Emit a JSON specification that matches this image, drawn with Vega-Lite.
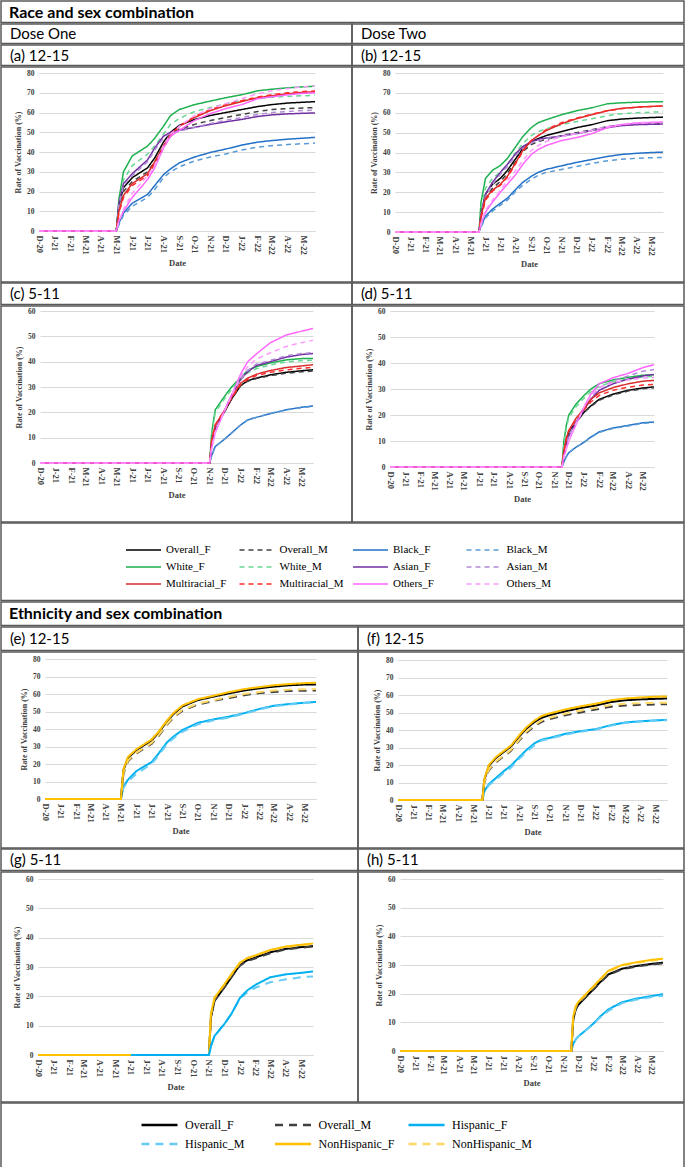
{
"$schema":"https://vega.github.io/schema/vega-lite/v6.json",
"padding":0,
"background":"white",
"spacing":-3,
"resolve":{"scale":{"color":"independent","strokeDash":"independent"}},
"config":{
 "view":{"stroke":"#595959","strokeWidth":1.5},
 "axis":{"labelFont":"Liberation Serif","labelFontWeight":"bold","labelColor":"#404040","titleFont":"Liberation Serif","titleFontWeight":"bold","titleFontSize":8,"titleColor":"#404040"},
 "axisX":{"grid":false,"ticks":false,"domainColor":"#d9d9d9","labelAngle":90,"labelFontSize":8.5,"labelPadding":4,"labelOverlap":false,"labelFlush":false,"tickCount":{"interval":"month","step":1},"labelExpr":"substring(utcFormat(datum.value, '%b'), 0, 1) + '-' + utcFormat(datum.value, '%y')","titlePadding":4,"titleFontSize":8.5},
 "axisY":{"grid":true,"gridColor":"#d9d9d9","domain":false,"ticks":false,"labelFontSize":7.5,"labelPadding":5,"titlePadding":4}
},
"datasets":{
"a":[
{"s":"Overall_F","d":"2020-12-01","v":0},{"s":"Overall_F","d":"2021-05-01","v":0},{"s":"Overall_F","d":"2021-05-06","v":13},{"s":"Overall_F","d":"2021-05-15","v":22},{"s":"Overall_F","d":"2021-06-01","v":27},{"s":"Overall_F","d":"2021-07-01","v":32},{"s":"Overall_F","d":"2021-07-15","v":37},{"s":"Overall_F","d":"2021-08-01","v":45},{"s":"Overall_F","d":"2021-08-15","v":50},{"s":"Overall_F","d":"2021-09-01","v":53.5},{"s":"Overall_F","d":"2021-10-01","v":56.5},{"s":"Overall_F","d":"2021-11-01","v":58.5},{"s":"Overall_F","d":"2021-12-01","v":60},{"s":"Overall_F","d":"2022-01-01","v":61.5},{"s":"Overall_F","d":"2022-02-01","v":63},{"s":"Overall_F","d":"2022-03-01","v":64},{"s":"Overall_F","d":"2022-04-01","v":64.8},{"s":"Overall_F","d":"2022-05-01","v":65.2},{"s":"Overall_F","d":"2022-05-24","v":65.5},
{"s":"Overall_M","d":"2020-12-01","v":0},{"s":"Overall_M","d":"2021-05-01","v":0},{"s":"Overall_M","d":"2021-05-06","v":12},{"s":"Overall_M","d":"2021-05-15","v":20},{"s":"Overall_M","d":"2021-06-01","v":25},{"s":"Overall_M","d":"2021-07-01","v":30},{"s":"Overall_M","d":"2021-07-15","v":35},{"s":"Overall_M","d":"2021-08-01","v":43},{"s":"Overall_M","d":"2021-08-15","v":48},{"s":"Overall_M","d":"2021-09-01","v":51.5},{"s":"Overall_M","d":"2021-10-01","v":54},{"s":"Overall_M","d":"2021-11-01","v":56},{"s":"Overall_M","d":"2021-12-01","v":57.5},{"s":"Overall_M","d":"2022-01-01","v":59},{"s":"Overall_M","d":"2022-02-01","v":60.5},{"s":"Overall_M","d":"2022-03-01","v":61.5},{"s":"Overall_M","d":"2022-04-01","v":62},{"s":"Overall_M","d":"2022-05-01","v":62.3},{"s":"Overall_M","d":"2022-05-24","v":62.5},
{"s":"Black_F","d":"2020-12-01","v":0},{"s":"Black_F","d":"2021-05-01","v":0},{"s":"Black_F","d":"2021-05-06","v":4},{"s":"Black_F","d":"2021-05-15","v":9},{"s":"Black_F","d":"2021-06-01","v":14},{"s":"Black_F","d":"2021-07-01","v":18.5},{"s":"Black_F","d":"2021-07-15","v":23},{"s":"Black_F","d":"2021-08-01","v":28.5},{"s":"Black_F","d":"2021-08-15","v":31.5},{"s":"Black_F","d":"2021-09-01","v":34.5},{"s":"Black_F","d":"2021-10-01","v":37.5},{"s":"Black_F","d":"2021-11-01","v":39.8},{"s":"Black_F","d":"2021-12-01","v":41.5},{"s":"Black_F","d":"2022-01-01","v":43.5},{"s":"Black_F","d":"2022-02-01","v":45},{"s":"Black_F","d":"2022-03-01","v":45.8},{"s":"Black_F","d":"2022-04-01","v":46.5},{"s":"Black_F","d":"2022-05-01","v":47},{"s":"Black_F","d":"2022-05-24","v":47.4},
{"s":"Black_M","d":"2020-12-01","v":0},{"s":"Black_M","d":"2021-05-01","v":0},{"s":"Black_M","d":"2021-05-06","v":3},{"s":"Black_M","d":"2021-05-15","v":8},{"s":"Black_M","d":"2021-06-01","v":12.5},{"s":"Black_M","d":"2021-07-01","v":17},{"s":"Black_M","d":"2021-07-15","v":21},{"s":"Black_M","d":"2021-08-01","v":27},{"s":"Black_M","d":"2021-08-15","v":30},{"s":"Black_M","d":"2021-09-01","v":32.5},{"s":"Black_M","d":"2021-10-01","v":35.5},{"s":"Black_M","d":"2021-11-01","v":37.5},{"s":"Black_M","d":"2021-12-01","v":39},{"s":"Black_M","d":"2022-01-01","v":41},{"s":"Black_M","d":"2022-02-01","v":42.5},{"s":"Black_M","d":"2022-03-01","v":43.2},{"s":"Black_M","d":"2022-04-01","v":43.8},{"s":"Black_M","d":"2022-05-01","v":44.2},{"s":"Black_M","d":"2022-05-24","v":44.5},
{"s":"White_F","d":"2020-12-01","v":0},{"s":"White_F","d":"2021-05-01","v":0},{"s":"White_F","d":"2021-05-06","v":16},{"s":"White_F","d":"2021-05-15","v":30},{"s":"White_F","d":"2021-06-01","v":38},{"s":"White_F","d":"2021-07-01","v":43},{"s":"White_F","d":"2021-07-15","v":47},{"s":"White_F","d":"2021-08-01","v":53},{"s":"White_F","d":"2021-08-15","v":58.5},{"s":"White_F","d":"2021-09-01","v":61.5},{"s":"White_F","d":"2021-10-01","v":64},{"s":"White_F","d":"2021-11-01","v":65.8},{"s":"White_F","d":"2021-12-01","v":67.5},{"s":"White_F","d":"2022-01-01","v":69},{"s":"White_F","d":"2022-02-01","v":71},{"s":"White_F","d":"2022-03-01","v":71.8},{"s":"White_F","d":"2022-04-01","v":72.5},{"s":"White_F","d":"2022-05-01","v":73},{"s":"White_F","d":"2022-05-24","v":73.3},
{"s":"White_M","d":"2020-12-01","v":0},{"s":"White_M","d":"2021-05-01","v":0},{"s":"White_M","d":"2021-05-06","v":12},{"s":"White_M","d":"2021-05-15","v":26},{"s":"White_M","d":"2021-06-01","v":33},{"s":"White_M","d":"2021-07-01","v":39},{"s":"White_M","d":"2021-07-15","v":43},{"s":"White_M","d":"2021-08-01","v":49},{"s":"White_M","d":"2021-08-15","v":54},{"s":"White_M","d":"2021-09-01","v":57},{"s":"White_M","d":"2021-10-01","v":60.5},{"s":"White_M","d":"2021-11-01","v":62.5},{"s":"White_M","d":"2021-12-01","v":64.5},{"s":"White_M","d":"2022-01-01","v":66},{"s":"White_M","d":"2022-02-01","v":67},{"s":"White_M","d":"2022-03-01","v":67.7},{"s":"White_M","d":"2022-04-01","v":68.2},{"s":"White_M","d":"2022-05-01","v":68.5},{"s":"White_M","d":"2022-05-24","v":68.7},
{"s":"Asian_F","d":"2020-12-01","v":0},{"s":"Asian_F","d":"2021-05-01","v":0},{"s":"Asian_F","d":"2021-05-06","v":14},{"s":"Asian_F","d":"2021-05-15","v":24},{"s":"Asian_F","d":"2021-06-01","v":29},{"s":"Asian_F","d":"2021-07-01","v":36},{"s":"Asian_F","d":"2021-07-15","v":42},{"s":"Asian_F","d":"2021-08-01","v":48},{"s":"Asian_F","d":"2021-08-15","v":50},{"s":"Asian_F","d":"2021-09-01","v":51},{"s":"Asian_F","d":"2021-10-01","v":52.5},{"s":"Asian_F","d":"2021-11-01","v":54},{"s":"Asian_F","d":"2021-12-01","v":55.3},{"s":"Asian_F","d":"2022-01-01","v":56.5},{"s":"Asian_F","d":"2022-02-01","v":58},{"s":"Asian_F","d":"2022-03-01","v":58.8},{"s":"Asian_F","d":"2022-04-01","v":59.3},{"s":"Asian_F","d":"2022-05-01","v":59.6},{"s":"Asian_F","d":"2022-05-24","v":59.8},
{"s":"Asian_M","d":"2020-12-01","v":0},{"s":"Asian_M","d":"2021-05-01","v":0},{"s":"Asian_M","d":"2021-05-06","v":13},{"s":"Asian_M","d":"2021-05-15","v":23},{"s":"Asian_M","d":"2021-06-01","v":28},{"s":"Asian_M","d":"2021-07-01","v":35},{"s":"Asian_M","d":"2021-07-15","v":41},{"s":"Asian_M","d":"2021-08-01","v":47},{"s":"Asian_M","d":"2021-08-15","v":49.5},{"s":"Asian_M","d":"2021-09-01","v":50.5},{"s":"Asian_M","d":"2021-10-01","v":52.5},{"s":"Asian_M","d":"2021-11-01","v":54.5},{"s":"Asian_M","d":"2021-12-01","v":56},{"s":"Asian_M","d":"2022-01-01","v":57.5},{"s":"Asian_M","d":"2022-02-01","v":59},{"s":"Asian_M","d":"2022-03-01","v":60},{"s":"Asian_M","d":"2022-04-01","v":60.5},{"s":"Asian_M","d":"2022-05-01","v":61},{"s":"Asian_M","d":"2022-05-24","v":61.2},
{"s":"Multiracial_F","d":"2020-12-01","v":0},{"s":"Multiracial_F","d":"2021-05-01","v":0},{"s":"Multiracial_F","d":"2021-05-06","v":10},{"s":"Multiracial_F","d":"2021-05-15","v":18},{"s":"Multiracial_F","d":"2021-06-01","v":24},{"s":"Multiracial_F","d":"2021-07-01","v":29},{"s":"Multiracial_F","d":"2021-07-15","v":35},{"s":"Multiracial_F","d":"2021-08-01","v":43},{"s":"Multiracial_F","d":"2021-08-15","v":49},{"s":"Multiracial_F","d":"2021-09-01","v":53},{"s":"Multiracial_F","d":"2021-10-01","v":57.5},{"s":"Multiracial_F","d":"2021-11-01","v":61},{"s":"Multiracial_F","d":"2021-12-01","v":63.5},{"s":"Multiracial_F","d":"2022-01-01","v":65.5},{"s":"Multiracial_F","d":"2022-02-01","v":67.5},{"s":"Multiracial_F","d":"2022-03-01","v":68.5},{"s":"Multiracial_F","d":"2022-04-01","v":69.5},{"s":"Multiracial_F","d":"2022-05-01","v":70.2},{"s":"Multiracial_F","d":"2022-05-24","v":70.5},
{"s":"Multiracial_M","d":"2020-12-01","v":0},{"s":"Multiracial_M","d":"2021-05-01","v":0},{"s":"Multiracial_M","d":"2021-05-06","v":9},{"s":"Multiracial_M","d":"2021-05-15","v":17},{"s":"Multiracial_M","d":"2021-06-01","v":23},{"s":"Multiracial_M","d":"2021-07-01","v":28},{"s":"Multiracial_M","d":"2021-07-15","v":34},{"s":"Multiracial_M","d":"2021-08-01","v":42},{"s":"Multiracial_M","d":"2021-08-15","v":48.5},{"s":"Multiracial_M","d":"2021-09-01","v":53},{"s":"Multiracial_M","d":"2021-10-01","v":58},{"s":"Multiracial_M","d":"2021-11-01","v":61.5},{"s":"Multiracial_M","d":"2021-12-01","v":64},{"s":"Multiracial_M","d":"2022-01-01","v":66},{"s":"Multiracial_M","d":"2022-02-01","v":67.8},{"s":"Multiracial_M","d":"2022-03-01","v":69},{"s":"Multiracial_M","d":"2022-04-01","v":70},{"s":"Multiracial_M","d":"2022-05-01","v":70.6},{"s":"Multiracial_M","d":"2022-05-24","v":70.9},
{"s":"Others_F","d":"2020-12-01","v":0},{"s":"Others_F","d":"2021-05-01","v":0},{"s":"Others_F","d":"2021-05-06","v":5},{"s":"Others_F","d":"2021-05-15","v":10},{"s":"Others_F","d":"2021-06-01","v":17},{"s":"Others_F","d":"2021-07-01","v":26},{"s":"Others_F","d":"2021-07-15","v":32},{"s":"Others_F","d":"2021-08-01","v":42},{"s":"Others_F","d":"2021-08-15","v":48},{"s":"Others_F","d":"2021-09-01","v":51},{"s":"Others_F","d":"2021-10-01","v":56},{"s":"Others_F","d":"2021-11-01","v":59.5},{"s":"Others_F","d":"2021-12-01","v":62},{"s":"Others_F","d":"2022-01-01","v":64},{"s":"Others_F","d":"2022-02-01","v":67},{"s":"Others_F","d":"2022-03-01","v":68},{"s":"Others_F","d":"2022-04-01","v":69},{"s":"Others_F","d":"2022-05-01","v":69.7},{"s":"Others_F","d":"2022-05-24","v":70},
{"s":"Others_M","d":"2020-12-01","v":0},{"s":"Others_M","d":"2021-05-01","v":0},{"s":"Others_M","d":"2021-05-06","v":5},{"s":"Others_M","d":"2021-05-15","v":11},{"s":"Others_M","d":"2021-06-01","v":19},{"s":"Others_M","d":"2021-07-01","v":28},{"s":"Others_M","d":"2021-07-15","v":33},{"s":"Others_M","d":"2021-08-01","v":43},{"s":"Others_M","d":"2021-08-15","v":49},{"s":"Others_M","d":"2021-09-01","v":53},{"s":"Others_M","d":"2021-10-01","v":58.5},{"s":"Others_M","d":"2021-11-01","v":62},{"s":"Others_M","d":"2021-12-01","v":64.5},{"s":"Others_M","d":"2022-01-01","v":67},{"s":"Others_M","d":"2022-02-01","v":69.5},{"s":"Others_M","d":"2022-03-01","v":71},{"s":"Others_M","d":"2022-04-01","v":72.2},{"s":"Others_M","d":"2022-05-01","v":73},{"s":"Others_M","d":"2022-05-24","v":73.3}
],
"b":[
{"s":"Overall_F","d":"2020-12-01","v":0},{"s":"Overall_F","d":"2021-05-19","v":0},{"s":"Overall_F","d":"2021-05-23","v":9},{"s":"Overall_F","d":"2021-06-01","v":19},{"s":"Overall_F","d":"2021-06-15","v":24},{"s":"Overall_F","d":"2021-07-01","v":27},{"s":"Overall_F","d":"2021-07-15","v":31},{"s":"Overall_F","d":"2021-08-01","v":37},{"s":"Overall_F","d":"2021-08-15","v":42},{"s":"Overall_F","d":"2021-09-01","v":45.5},{"s":"Overall_F","d":"2021-09-15","v":47},{"s":"Overall_F","d":"2021-10-01","v":48.5},{"s":"Overall_F","d":"2021-11-01","v":50.5},{"s":"Overall_F","d":"2021-12-01","v":52.5},{"s":"Overall_F","d":"2022-01-01","v":54},{"s":"Overall_F","d":"2022-02-01","v":56},{"s":"Overall_F","d":"2022-03-01","v":56.8},{"s":"Overall_F","d":"2022-04-01","v":57.3},{"s":"Overall_F","d":"2022-05-01","v":57.6},{"s":"Overall_F","d":"2022-05-24","v":57.8},
{"s":"Overall_M","d":"2020-12-01","v":0},{"s":"Overall_M","d":"2021-05-19","v":0},{"s":"Overall_M","d":"2021-05-23","v":8},{"s":"Overall_M","d":"2021-06-01","v":17},{"s":"Overall_M","d":"2021-06-15","v":22},{"s":"Overall_M","d":"2021-07-01","v":25.5},{"s":"Overall_M","d":"2021-07-15","v":29.5},{"s":"Overall_M","d":"2021-08-01","v":35.5},{"s":"Overall_M","d":"2021-08-15","v":40.5},{"s":"Overall_M","d":"2021-09-01","v":44},{"s":"Overall_M","d":"2021-09-15","v":45.5},{"s":"Overall_M","d":"2021-10-01","v":46.5},{"s":"Overall_M","d":"2021-11-01","v":48.5},{"s":"Overall_M","d":"2021-12-01","v":50},{"s":"Overall_M","d":"2022-01-01","v":51.5},{"s":"Overall_M","d":"2022-02-01","v":53},{"s":"Overall_M","d":"2022-03-01","v":53.8},{"s":"Overall_M","d":"2022-04-01","v":54.2},{"s":"Overall_M","d":"2022-05-01","v":54.4},{"s":"Overall_M","d":"2022-05-24","v":54.5},
{"s":"Black_F","d":"2020-12-01","v":0},{"s":"Black_F","d":"2021-05-19","v":0},{"s":"Black_F","d":"2021-05-23","v":3},{"s":"Black_F","d":"2021-06-01","v":8},{"s":"Black_F","d":"2021-06-15","v":11.5},{"s":"Black_F","d":"2021-07-01","v":14.5},{"s":"Black_F","d":"2021-07-15","v":17},{"s":"Black_F","d":"2021-08-01","v":21.5},{"s":"Black_F","d":"2021-08-15","v":25},{"s":"Black_F","d":"2021-09-01","v":28},{"s":"Black_F","d":"2021-09-15","v":30},{"s":"Black_F","d":"2021-10-01","v":31.5},{"s":"Black_F","d":"2021-11-01","v":33.3},{"s":"Black_F","d":"2021-12-01","v":35},{"s":"Black_F","d":"2022-01-01","v":36.5},{"s":"Black_F","d":"2022-02-01","v":38},{"s":"Black_F","d":"2022-03-01","v":39},{"s":"Black_F","d":"2022-04-01","v":39.6},{"s":"Black_F","d":"2022-05-01","v":40},{"s":"Black_F","d":"2022-05-24","v":40.2},
{"s":"Black_M","d":"2020-12-01","v":0},{"s":"Black_M","d":"2021-05-19","v":0},{"s":"Black_M","d":"2021-05-23","v":2.5},{"s":"Black_M","d":"2021-06-01","v":7},{"s":"Black_M","d":"2021-06-15","v":10.5},{"s":"Black_M","d":"2021-07-01","v":13.5},{"s":"Black_M","d":"2021-07-15","v":16},{"s":"Black_M","d":"2021-08-01","v":20.5},{"s":"Black_M","d":"2021-08-15","v":23.5},{"s":"Black_M","d":"2021-09-01","v":26.5},{"s":"Black_M","d":"2021-09-15","v":28.5},{"s":"Black_M","d":"2021-10-01","v":30},{"s":"Black_M","d":"2021-11-01","v":31.5},{"s":"Black_M","d":"2021-12-01","v":33},{"s":"Black_M","d":"2022-01-01","v":34.5},{"s":"Black_M","d":"2022-02-01","v":35.8},{"s":"Black_M","d":"2022-03-01","v":36.6},{"s":"Black_M","d":"2022-04-01","v":37.1},{"s":"Black_M","d":"2022-05-01","v":37.4},{"s":"Black_M","d":"2022-05-24","v":37.5},
{"s":"White_F","d":"2020-12-01","v":0},{"s":"White_F","d":"2021-05-19","v":0},{"s":"White_F","d":"2021-05-23","v":15},{"s":"White_F","d":"2021-06-01","v":27},{"s":"White_F","d":"2021-06-15","v":31},{"s":"White_F","d":"2021-07-01","v":33.5},{"s":"White_F","d":"2021-07-15","v":37},{"s":"White_F","d":"2021-08-01","v":43},{"s":"White_F","d":"2021-08-15","v":48},{"s":"White_F","d":"2021-09-01","v":52.5},{"s":"White_F","d":"2021-09-15","v":55},{"s":"White_F","d":"2021-10-01","v":56.5},{"s":"White_F","d":"2021-11-01","v":59},{"s":"White_F","d":"2021-12-01","v":61},{"s":"White_F","d":"2022-01-01","v":62.5},{"s":"White_F","d":"2022-02-01","v":64.5},{"s":"White_F","d":"2022-03-01","v":65},{"s":"White_F","d":"2022-04-01","v":65.3},{"s":"White_F","d":"2022-05-01","v":65.5},{"s":"White_F","d":"2022-05-24","v":65.6},
{"s":"White_M","d":"2020-12-01","v":0},{"s":"White_M","d":"2021-05-19","v":0},{"s":"White_M","d":"2021-05-23","v":12},{"s":"White_M","d":"2021-06-01","v":22},{"s":"White_M","d":"2021-06-15","v":27},{"s":"White_M","d":"2021-07-01","v":30},{"s":"White_M","d":"2021-07-15","v":34},{"s":"White_M","d":"2021-08-01","v":40},{"s":"White_M","d":"2021-08-15","v":44.5},{"s":"White_M","d":"2021-09-01","v":48.5},{"s":"White_M","d":"2021-09-15","v":50.5},{"s":"White_M","d":"2021-10-01","v":52},{"s":"White_M","d":"2021-11-01","v":54},{"s":"White_M","d":"2021-12-01","v":55.5},{"s":"White_M","d":"2022-01-01","v":57},{"s":"White_M","d":"2022-02-01","v":58.5},{"s":"White_M","d":"2022-03-01","v":59.5},{"s":"White_M","d":"2022-04-01","v":60},{"s":"White_M","d":"2022-05-01","v":60.3},{"s":"White_M","d":"2022-05-24","v":60.5},
{"s":"Asian_F","d":"2020-12-01","v":0},{"s":"Asian_F","d":"2021-05-19","v":0},{"s":"Asian_F","d":"2021-05-23","v":9},{"s":"Asian_F","d":"2021-06-01","v":19},{"s":"Asian_F","d":"2021-06-15","v":25},{"s":"Asian_F","d":"2021-07-01","v":30},{"s":"Asian_F","d":"2021-07-15","v":34},{"s":"Asian_F","d":"2021-08-01","v":39.5},{"s":"Asian_F","d":"2021-08-15","v":43},{"s":"Asian_F","d":"2021-09-01","v":45.5},{"s":"Asian_F","d":"2021-09-15","v":46.5},{"s":"Asian_F","d":"2021-10-01","v":47.3},{"s":"Asian_F","d":"2021-11-01","v":48.3},{"s":"Asian_F","d":"2021-12-01","v":49.5},{"s":"Asian_F","d":"2022-01-01","v":51},{"s":"Asian_F","d":"2022-02-01","v":52.5},{"s":"Asian_F","d":"2022-03-01","v":53.5},{"s":"Asian_F","d":"2022-04-01","v":54},{"s":"Asian_F","d":"2022-05-01","v":54.2},{"s":"Asian_F","d":"2022-05-24","v":54.3},
{"s":"Asian_M","d":"2020-12-01","v":0},{"s":"Asian_M","d":"2021-05-19","v":0},{"s":"Asian_M","d":"2021-05-23","v":8},{"s":"Asian_M","d":"2021-06-01","v":18},{"s":"Asian_M","d":"2021-06-15","v":24},{"s":"Asian_M","d":"2021-07-01","v":29},{"s":"Asian_M","d":"2021-07-15","v":33},{"s":"Asian_M","d":"2021-08-01","v":38.5},{"s":"Asian_M","d":"2021-08-15","v":42},{"s":"Asian_M","d":"2021-09-01","v":44.8},{"s":"Asian_M","d":"2021-09-15","v":46},{"s":"Asian_M","d":"2021-10-01","v":47},{"s":"Asian_M","d":"2021-11-01","v":48.2},{"s":"Asian_M","d":"2021-12-01","v":49.5},{"s":"Asian_M","d":"2022-01-01","v":51.2},{"s":"Asian_M","d":"2022-02-01","v":53},{"s":"Asian_M","d":"2022-03-01","v":54},{"s":"Asian_M","d":"2022-04-01","v":54.6},{"s":"Asian_M","d":"2022-05-01","v":54.9},{"s":"Asian_M","d":"2022-05-24","v":55},
{"s":"Multiracial_F","d":"2020-12-01","v":0},{"s":"Multiracial_F","d":"2021-05-19","v":0},{"s":"Multiracial_F","d":"2021-05-23","v":8},{"s":"Multiracial_F","d":"2021-06-01","v":17},{"s":"Multiracial_F","d":"2021-06-15","v":21},{"s":"Multiracial_F","d":"2021-07-01","v":24},{"s":"Multiracial_F","d":"2021-07-15","v":28},{"s":"Multiracial_F","d":"2021-08-01","v":35},{"s":"Multiracial_F","d":"2021-08-15","v":41},{"s":"Multiracial_F","d":"2021-09-01","v":46},{"s":"Multiracial_F","d":"2021-09-15","v":48.5},{"s":"Multiracial_F","d":"2021-10-01","v":51},{"s":"Multiracial_F","d":"2021-11-01","v":54.5},{"s":"Multiracial_F","d":"2021-12-01","v":57},{"s":"Multiracial_F","d":"2022-01-01","v":59},{"s":"Multiracial_F","d":"2022-02-01","v":61},{"s":"Multiracial_F","d":"2022-03-01","v":62.2},{"s":"Multiracial_F","d":"2022-04-01","v":62.8},{"s":"Multiracial_F","d":"2022-05-01","v":63.2},{"s":"Multiracial_F","d":"2022-05-24","v":63.4},
{"s":"Multiracial_M","d":"2020-12-01","v":0},{"s":"Multiracial_M","d":"2021-05-19","v":0},{"s":"Multiracial_M","d":"2021-05-23","v":7},{"s":"Multiracial_M","d":"2021-06-01","v":16},{"s":"Multiracial_M","d":"2021-06-15","v":20.5},{"s":"Multiracial_M","d":"2021-07-01","v":23.5},{"s":"Multiracial_M","d":"2021-07-15","v":27.5},{"s":"Multiracial_M","d":"2021-08-01","v":34.5},{"s":"Multiracial_M","d":"2021-08-15","v":40.5},{"s":"Multiracial_M","d":"2021-09-01","v":46},{"s":"Multiracial_M","d":"2021-09-15","v":48.5},{"s":"Multiracial_M","d":"2021-10-01","v":51.5},{"s":"Multiracial_M","d":"2021-11-01","v":55},{"s":"Multiracial_M","d":"2021-12-01","v":57.3},{"s":"Multiracial_M","d":"2022-01-01","v":59.3},{"s":"Multiracial_M","d":"2022-02-01","v":61},{"s":"Multiracial_M","d":"2022-03-01","v":62},{"s":"Multiracial_M","d":"2022-04-01","v":62.8},{"s":"Multiracial_M","d":"2022-05-01","v":63.2},{"s":"Multiracial_M","d":"2022-05-24","v":63.3},
{"s":"Others_F","d":"2020-12-01","v":0},{"s":"Others_F","d":"2021-05-19","v":0},{"s":"Others_F","d":"2021-05-23","v":4},{"s":"Others_F","d":"2021-06-01","v":10},{"s":"Others_F","d":"2021-06-15","v":15},{"s":"Others_F","d":"2021-07-01","v":20},{"s":"Others_F","d":"2021-07-15","v":24},{"s":"Others_F","d":"2021-08-01","v":29},{"s":"Others_F","d":"2021-08-15","v":34},{"s":"Others_F","d":"2021-09-01","v":39},{"s":"Others_F","d":"2021-09-15","v":41.5},{"s":"Others_F","d":"2021-10-01","v":43.5},{"s":"Others_F","d":"2021-11-01","v":46},{"s":"Others_F","d":"2021-12-01","v":47.5},{"s":"Others_F","d":"2022-01-01","v":49.5},{"s":"Others_F","d":"2022-02-01","v":52.5},{"s":"Others_F","d":"2022-03-01","v":54},{"s":"Others_F","d":"2022-04-01","v":54.8},{"s":"Others_F","d":"2022-05-01","v":55.1},{"s":"Others_F","d":"2022-05-24","v":55.3},
{"s":"Others_M","d":"2020-12-01","v":0},{"s":"Others_M","d":"2021-05-19","v":0},{"s":"Others_M","d":"2021-05-23","v":4},{"s":"Others_M","d":"2021-06-01","v":11},{"s":"Others_M","d":"2021-06-15","v":16},{"s":"Others_M","d":"2021-07-01","v":21},{"s":"Others_M","d":"2021-07-15","v":26},{"s":"Others_M","d":"2021-08-01","v":31},{"s":"Others_M","d":"2021-08-15","v":36},{"s":"Others_M","d":"2021-09-01","v":41},{"s":"Others_M","d":"2021-09-15","v":43.5},{"s":"Others_M","d":"2021-10-01","v":45.5},{"s":"Others_M","d":"2021-11-01","v":48},{"s":"Others_M","d":"2021-12-01","v":49.5},{"s":"Others_M","d":"2022-01-01","v":51},{"s":"Others_M","d":"2022-02-01","v":53},{"s":"Others_M","d":"2022-03-01","v":54.2},{"s":"Others_M","d":"2022-04-01","v":55},{"s":"Others_M","d":"2022-05-01","v":55.3},{"s":"Others_M","d":"2022-05-24","v":55.5}
],
"c":[
{"s":"Overall_F","d":"2020-12-01","v":0},{"s":"Overall_F","d":"2021-11-01","v":0},{"s":"Overall_F","d":"2021-11-05","v":8},{"s":"Overall_F","d":"2021-11-12","v":14},{"s":"Overall_F","d":"2021-12-01","v":20.5},{"s":"Overall_F","d":"2021-12-15","v":25.5},{"s":"Overall_F","d":"2022-01-01","v":30.5},{"s":"Overall_F","d":"2022-01-15","v":32.5},{"s":"Overall_F","d":"2022-02-01","v":33.5},{"s":"Overall_F","d":"2022-03-01","v":34.8},{"s":"Overall_F","d":"2022-04-01","v":35.8},{"s":"Overall_F","d":"2022-05-01","v":36.4},{"s":"Overall_F","d":"2022-05-24","v":36.8},
{"s":"Overall_M","d":"2020-12-01","v":0},{"s":"Overall_M","d":"2021-11-01","v":0},{"s":"Overall_M","d":"2021-11-05","v":8},{"s":"Overall_M","d":"2021-11-12","v":14},{"s":"Overall_M","d":"2021-12-01","v":20.5},{"s":"Overall_M","d":"2021-12-15","v":25.5},{"s":"Overall_M","d":"2022-01-01","v":30.5},{"s":"Overall_M","d":"2022-01-15","v":32.3},{"s":"Overall_M","d":"2022-02-01","v":33.3},{"s":"Overall_M","d":"2022-03-01","v":34.5},{"s":"Overall_M","d":"2022-04-01","v":35.4},{"s":"Overall_M","d":"2022-05-01","v":36},{"s":"Overall_M","d":"2022-05-24","v":36.3},
{"s":"Black_F","d":"2020-12-01","v":0},{"s":"Black_F","d":"2021-11-01","v":0},{"s":"Black_F","d":"2021-11-05","v":3},{"s":"Black_F","d":"2021-11-12","v":6.5},{"s":"Black_F","d":"2021-12-01","v":9.5},{"s":"Black_F","d":"2021-12-15","v":12},{"s":"Black_F","d":"2022-01-01","v":15},{"s":"Black_F","d":"2022-01-15","v":17},{"s":"Black_F","d":"2022-02-01","v":18},{"s":"Black_F","d":"2022-03-01","v":19.5},{"s":"Black_F","d":"2022-04-01","v":21},{"s":"Black_F","d":"2022-05-01","v":22},{"s":"Black_F","d":"2022-05-24","v":22.5},
{"s":"Black_M","d":"2020-12-01","v":0},{"s":"Black_M","d":"2021-11-01","v":0},{"s":"Black_M","d":"2021-11-05","v":3},{"s":"Black_M","d":"2021-11-12","v":6.5},{"s":"Black_M","d":"2021-12-01","v":9.5},{"s":"Black_M","d":"2021-12-15","v":12},{"s":"Black_M","d":"2022-01-01","v":15},{"s":"Black_M","d":"2022-01-15","v":17},{"s":"Black_M","d":"2022-02-01","v":18},{"s":"Black_M","d":"2022-03-01","v":19.5},{"s":"Black_M","d":"2022-04-01","v":21},{"s":"Black_M","d":"2022-05-01","v":21.8},{"s":"Black_M","d":"2022-05-24","v":22.3},
{"s":"White_F","d":"2020-12-01","v":0},{"s":"White_F","d":"2021-11-01","v":0},{"s":"White_F","d":"2021-11-05","v":12},{"s":"White_F","d":"2021-11-12","v":21},{"s":"White_F","d":"2021-12-01","v":26.5},{"s":"White_F","d":"2021-12-15","v":30.2},{"s":"White_F","d":"2022-01-01","v":33.7},{"s":"White_F","d":"2022-01-15","v":36.5},{"s":"White_F","d":"2022-02-01","v":38},{"s":"White_F","d":"2022-03-01","v":39.5},{"s":"White_F","d":"2022-04-01","v":40.7},{"s":"White_F","d":"2022-05-01","v":41.2},{"s":"White_F","d":"2022-05-24","v":41.3},
{"s":"White_M","d":"2020-12-01","v":0},{"s":"White_M","d":"2021-11-01","v":0},{"s":"White_M","d":"2021-11-05","v":11},{"s":"White_M","d":"2021-11-12","v":20},{"s":"White_M","d":"2021-12-01","v":25.5},{"s":"White_M","d":"2021-12-15","v":29.3},{"s":"White_M","d":"2022-01-01","v":32.8},{"s":"White_M","d":"2022-01-15","v":35.6},{"s":"White_M","d":"2022-02-01","v":37.2},{"s":"White_M","d":"2022-03-01","v":38.7},{"s":"White_M","d":"2022-04-01","v":39.9},{"s":"White_M","d":"2022-05-01","v":40.4},{"s":"White_M","d":"2022-05-24","v":40.6},
{"s":"Asian_F","d":"2020-12-01","v":0},{"s":"Asian_F","d":"2021-11-01","v":0},{"s":"Asian_F","d":"2021-11-05","v":8},{"s":"Asian_F","d":"2021-11-12","v":14},{"s":"Asian_F","d":"2021-12-01","v":21},{"s":"Asian_F","d":"2021-12-15","v":27},{"s":"Asian_F","d":"2022-01-01","v":33},{"s":"Asian_F","d":"2022-01-15","v":36},{"s":"Asian_F","d":"2022-02-01","v":38.5},{"s":"Asian_F","d":"2022-03-01","v":40},{"s":"Asian_F","d":"2022-04-01","v":41.8},{"s":"Asian_F","d":"2022-05-01","v":42.8},{"s":"Asian_F","d":"2022-05-24","v":43.2},
{"s":"Asian_M","d":"2020-12-01","v":0},{"s":"Asian_M","d":"2021-11-01","v":0},{"s":"Asian_M","d":"2021-11-05","v":8},{"s":"Asian_M","d":"2021-11-12","v":14},{"s":"Asian_M","d":"2021-12-01","v":21},{"s":"Asian_M","d":"2021-12-15","v":27},{"s":"Asian_M","d":"2022-01-01","v":33},{"s":"Asian_M","d":"2022-01-15","v":36.5},{"s":"Asian_M","d":"2022-02-01","v":39},{"s":"Asian_M","d":"2022-03-01","v":40.5},{"s":"Asian_M","d":"2022-04-01","v":42.3},{"s":"Asian_M","d":"2022-05-01","v":43.2},{"s":"Asian_M","d":"2022-05-24","v":43.6},
{"s":"Multiracial_F","d":"2020-12-01","v":0},{"s":"Multiracial_F","d":"2021-11-01","v":0},{"s":"Multiracial_F","d":"2021-11-05","v":9},{"s":"Multiracial_F","d":"2021-11-12","v":15},{"s":"Multiracial_F","d":"2021-12-01","v":21},{"s":"Multiracial_F","d":"2021-12-15","v":26},{"s":"Multiracial_F","d":"2022-01-01","v":31.5},{"s":"Multiracial_F","d":"2022-01-15","v":33.5},{"s":"Multiracial_F","d":"2022-02-01","v":35},{"s":"Multiracial_F","d":"2022-03-01","v":36.5},{"s":"Multiracial_F","d":"2022-04-01","v":37.7},{"s":"Multiracial_F","d":"2022-05-01","v":38.3},{"s":"Multiracial_F","d":"2022-05-24","v":38.8},
{"s":"Multiracial_M","d":"2020-12-01","v":0},{"s":"Multiracial_M","d":"2021-11-01","v":0},{"s":"Multiracial_M","d":"2021-11-05","v":9},{"s":"Multiracial_M","d":"2021-11-12","v":15},{"s":"Multiracial_M","d":"2021-12-01","v":21},{"s":"Multiracial_M","d":"2021-12-15","v":26},{"s":"Multiracial_M","d":"2022-01-01","v":31},{"s":"Multiracial_M","d":"2022-01-15","v":33},{"s":"Multiracial_M","d":"2022-02-01","v":34.5},{"s":"Multiracial_M","d":"2022-03-01","v":35.8},{"s":"Multiracial_M","d":"2022-04-01","v":36.8},{"s":"Multiracial_M","d":"2022-05-01","v":37.4},{"s":"Multiracial_M","d":"2022-05-24","v":37.8},
{"s":"Others_F","d":"2020-12-01","v":0},{"s":"Others_F","d":"2021-11-01","v":0},{"s":"Others_F","d":"2021-11-05","v":6},{"s":"Others_F","d":"2021-11-12","v":12},{"s":"Others_F","d":"2021-12-01","v":21},{"s":"Others_F","d":"2021-12-15","v":27},{"s":"Others_F","d":"2022-01-01","v":35},{"s":"Others_F","d":"2022-01-15","v":40},{"s":"Others_F","d":"2022-02-01","v":43},{"s":"Others_F","d":"2022-03-01","v":47.5},{"s":"Others_F","d":"2022-04-01","v":50.5},{"s":"Others_F","d":"2022-05-01","v":52},{"s":"Others_F","d":"2022-05-24","v":53.1},
{"s":"Others_M","d":"2020-12-01","v":0},{"s":"Others_M","d":"2021-11-01","v":0},{"s":"Others_M","d":"2021-11-05","v":6},{"s":"Others_M","d":"2021-11-12","v":12},{"s":"Others_M","d":"2021-12-01","v":21},{"s":"Others_M","d":"2021-12-15","v":27},{"s":"Others_M","d":"2022-01-01","v":34},{"s":"Others_M","d":"2022-01-15","v":38},{"s":"Others_M","d":"2022-02-01","v":41},{"s":"Others_M","d":"2022-03-01","v":43.5},{"s":"Others_M","d":"2022-04-01","v":46},{"s":"Others_M","d":"2022-05-01","v":47.5},{"s":"Others_M","d":"2022-05-24","v":48.4}
],
"d":[
{"s":"Overall_F","d":"2020-12-01","v":0},{"s":"Overall_F","d":"2021-11-17","v":0},{"s":"Overall_F","d":"2021-11-21","v":6},{"s":"Overall_F","d":"2021-11-26","v":10.5},{"s":"Overall_F","d":"2021-12-01","v":13.5},{"s":"Overall_F","d":"2021-12-15","v":17},{"s":"Overall_F","d":"2022-01-01","v":21},{"s":"Overall_F","d":"2022-01-15","v":23.5},{"s":"Overall_F","d":"2022-02-01","v":26},{"s":"Overall_F","d":"2022-03-01","v":28},{"s":"Overall_F","d":"2022-04-01","v":29.5},{"s":"Overall_F","d":"2022-05-01","v":30.4},{"s":"Overall_F","d":"2022-05-24","v":30.8},
{"s":"Overall_M","d":"2020-12-01","v":0},{"s":"Overall_M","d":"2021-11-17","v":0},{"s":"Overall_M","d":"2021-11-21","v":6},{"s":"Overall_M","d":"2021-11-26","v":10.5},{"s":"Overall_M","d":"2021-12-01","v":13.5},{"s":"Overall_M","d":"2021-12-15","v":17},{"s":"Overall_M","d":"2022-01-01","v":21},{"s":"Overall_M","d":"2022-01-15","v":23.3},{"s":"Overall_M","d":"2022-02-01","v":25.7},{"s":"Overall_M","d":"2022-03-01","v":27.7},{"s":"Overall_M","d":"2022-04-01","v":29.2},{"s":"Overall_M","d":"2022-05-01","v":30.1},{"s":"Overall_M","d":"2022-05-24","v":30.5},
{"s":"Black_F","d":"2020-12-01","v":0},{"s":"Black_F","d":"2021-11-17","v":0},{"s":"Black_F","d":"2021-11-21","v":2},{"s":"Black_F","d":"2021-11-26","v":4},{"s":"Black_F","d":"2021-12-01","v":5.5},{"s":"Black_F","d":"2021-12-15","v":7.5},{"s":"Black_F","d":"2022-01-01","v":9.5},{"s":"Black_F","d":"2022-01-15","v":11.5},{"s":"Black_F","d":"2022-02-01","v":13.5},{"s":"Black_F","d":"2022-03-01","v":15},{"s":"Black_F","d":"2022-04-01","v":16},{"s":"Black_F","d":"2022-05-01","v":17},{"s":"Black_F","d":"2022-05-24","v":17.3},
{"s":"Black_M","d":"2020-12-01","v":0},{"s":"Black_M","d":"2021-11-17","v":0},{"s":"Black_M","d":"2021-11-21","v":2},{"s":"Black_M","d":"2021-11-26","v":4},{"s":"Black_M","d":"2021-12-01","v":5.5},{"s":"Black_M","d":"2021-12-15","v":7.5},{"s":"Black_M","d":"2022-01-01","v":9.5},{"s":"Black_M","d":"2022-01-15","v":11.3},{"s":"Black_M","d":"2022-02-01","v":13.3},{"s":"Black_M","d":"2022-03-01","v":14.8},{"s":"Black_M","d":"2022-04-01","v":15.8},{"s":"Black_M","d":"2022-05-01","v":16.8},{"s":"Black_M","d":"2022-05-24","v":17.1},
{"s":"White_F","d":"2020-12-01","v":0},{"s":"White_F","d":"2021-11-17","v":0},{"s":"White_F","d":"2021-11-21","v":10},{"s":"White_F","d":"2021-11-26","v":16},{"s":"White_F","d":"2021-12-01","v":20},{"s":"White_F","d":"2021-12-15","v":24},{"s":"White_F","d":"2022-01-01","v":27.5},{"s":"White_F","d":"2022-01-15","v":30},{"s":"White_F","d":"2022-02-01","v":32},{"s":"White_F","d":"2022-03-01","v":33.5},{"s":"White_F","d":"2022-04-01","v":34.5},{"s":"White_F","d":"2022-05-01","v":35.3},{"s":"White_F","d":"2022-05-24","v":35.5},
{"s":"White_M","d":"2020-12-01","v":0},{"s":"White_M","d":"2021-11-17","v":0},{"s":"White_M","d":"2021-11-21","v":9},{"s":"White_M","d":"2021-11-26","v":15},{"s":"White_M","d":"2021-12-01","v":19},{"s":"White_M","d":"2021-12-15","v":23},{"s":"White_M","d":"2022-01-01","v":26.5},{"s":"White_M","d":"2022-01-15","v":29},{"s":"White_M","d":"2022-02-01","v":31},{"s":"White_M","d":"2022-03-01","v":32.8},{"s":"White_M","d":"2022-04-01","v":33.8},{"s":"White_M","d":"2022-05-01","v":34.6},{"s":"White_M","d":"2022-05-24","v":34.9},
{"s":"Asian_F","d":"2020-12-01","v":0},{"s":"Asian_F","d":"2021-11-17","v":0},{"s":"Asian_F","d":"2021-11-21","v":5},{"s":"Asian_F","d":"2021-11-26","v":9},{"s":"Asian_F","d":"2021-12-01","v":12},{"s":"Asian_F","d":"2021-12-15","v":17},{"s":"Asian_F","d":"2022-01-01","v":22},{"s":"Asian_F","d":"2022-01-15","v":26},{"s":"Asian_F","d":"2022-02-01","v":29.5},{"s":"Asian_F","d":"2022-03-01","v":32},{"s":"Asian_F","d":"2022-04-01","v":33.8},{"s":"Asian_F","d":"2022-05-01","v":35},{"s":"Asian_F","d":"2022-05-24","v":35.6},
{"s":"Asian_M","d":"2020-12-01","v":0},{"s":"Asian_M","d":"2021-11-17","v":0},{"s":"Asian_M","d":"2021-11-21","v":5},{"s":"Asian_M","d":"2021-11-26","v":9},{"s":"Asian_M","d":"2021-12-01","v":12},{"s":"Asian_M","d":"2021-12-15","v":17},{"s":"Asian_M","d":"2022-01-01","v":22.5},{"s":"Asian_M","d":"2022-01-15","v":27},{"s":"Asian_M","d":"2022-02-01","v":30.5},{"s":"Asian_M","d":"2022-03-01","v":33},{"s":"Asian_M","d":"2022-04-01","v":35},{"s":"Asian_M","d":"2022-05-01","v":36.8},{"s":"Asian_M","d":"2022-05-24","v":37.5},
{"s":"Multiracial_F","d":"2020-12-01","v":0},{"s":"Multiracial_F","d":"2021-11-17","v":0},{"s":"Multiracial_F","d":"2021-11-21","v":6},{"s":"Multiracial_F","d":"2021-11-26","v":11},{"s":"Multiracial_F","d":"2021-12-01","v":14},{"s":"Multiracial_F","d":"2021-12-15","v":18.5},{"s":"Multiracial_F","d":"2022-01-01","v":22.5},{"s":"Multiracial_F","d":"2022-01-15","v":26},{"s":"Multiracial_F","d":"2022-02-01","v":28.5},{"s":"Multiracial_F","d":"2022-03-01","v":30.5},{"s":"Multiracial_F","d":"2022-04-01","v":32},{"s":"Multiracial_F","d":"2022-05-01","v":33},{"s":"Multiracial_F","d":"2022-05-24","v":33.3},
{"s":"Multiracial_M","d":"2020-12-01","v":0},{"s":"Multiracial_M","d":"2021-11-17","v":0},{"s":"Multiracial_M","d":"2021-11-21","v":6},{"s":"Multiracial_M","d":"2021-11-26","v":11},{"s":"Multiracial_M","d":"2021-12-01","v":14},{"s":"Multiracial_M","d":"2021-12-15","v":18},{"s":"Multiracial_M","d":"2022-01-01","v":22},{"s":"Multiracial_M","d":"2022-01-15","v":25},{"s":"Multiracial_M","d":"2022-02-01","v":27.5},{"s":"Multiracial_M","d":"2022-03-01","v":29.5},{"s":"Multiracial_M","d":"2022-04-01","v":30.7},{"s":"Multiracial_M","d":"2022-05-01","v":31.5},{"s":"Multiracial_M","d":"2022-05-24","v":31.8},
{"s":"Others_F","d":"2020-12-01","v":0},{"s":"Others_F","d":"2021-11-17","v":0},{"s":"Others_F","d":"2021-11-21","v":4},{"s":"Others_F","d":"2021-11-26","v":7},{"s":"Others_F","d":"2021-12-01","v":10},{"s":"Others_F","d":"2021-12-15","v":16},{"s":"Others_F","d":"2022-01-01","v":23},{"s":"Others_F","d":"2022-01-15","v":28},{"s":"Others_F","d":"2022-02-01","v":32},{"s":"Others_F","d":"2022-03-01","v":34.3},{"s":"Others_F","d":"2022-04-01","v":36},{"s":"Others_F","d":"2022-05-01","v":38.2},{"s":"Others_F","d":"2022-05-24","v":39.3},
{"s":"Others_M","d":"2020-12-01","v":0},{"s":"Others_M","d":"2021-11-17","v":0},{"s":"Others_M","d":"2021-11-21","v":4},{"s":"Others_M","d":"2021-11-26","v":7},{"s":"Others_M","d":"2021-12-01","v":10},{"s":"Others_M","d":"2021-12-15","v":16},{"s":"Others_M","d":"2022-01-01","v":23},{"s":"Others_M","d":"2022-01-15","v":27.5},{"s":"Others_M","d":"2022-02-01","v":30.5},{"s":"Others_M","d":"2022-03-01","v":32.5},{"s":"Others_M","d":"2022-04-01","v":33.5},{"s":"Others_M","d":"2022-05-01","v":34.2},{"s":"Others_M","d":"2022-05-24","v":34.5}
],
"e":[
{"s":"Hispanic_F","d":"2020-12-01","v":0},{"s":"Hispanic_F","d":"2021-05-01","v":0},{"s":"Hispanic_F","d":"2021-05-06","v":7},{"s":"Hispanic_F","d":"2021-05-15","v":11},{"s":"Hispanic_F","d":"2021-06-01","v":16},{"s":"Hispanic_F","d":"2021-07-01","v":21},{"s":"Hispanic_F","d":"2021-07-15","v":26},{"s":"Hispanic_F","d":"2021-08-01","v":32.5},{"s":"Hispanic_F","d":"2021-08-15","v":36},{"s":"Hispanic_F","d":"2021-09-01","v":39.5},{"s":"Hispanic_F","d":"2021-10-01","v":43.5},{"s":"Hispanic_F","d":"2021-11-01","v":45.5},{"s":"Hispanic_F","d":"2021-12-01","v":47},{"s":"Hispanic_F","d":"2022-01-01","v":49},{"s":"Hispanic_F","d":"2022-02-01","v":51.5},{"s":"Hispanic_F","d":"2022-03-01","v":53.3},{"s":"Hispanic_F","d":"2022-04-01","v":54.3},{"s":"Hispanic_F","d":"2022-05-01","v":55},{"s":"Hispanic_F","d":"2022-05-24","v":55.5},
{"s":"Hispanic_M","d":"2020-12-01","v":0},{"s":"Hispanic_M","d":"2021-05-01","v":0},{"s":"Hispanic_M","d":"2021-05-06","v":6.5},{"s":"Hispanic_M","d":"2021-05-15","v":10},{"s":"Hispanic_M","d":"2021-06-01","v":14.5},{"s":"Hispanic_M","d":"2021-07-01","v":20},{"s":"Hispanic_M","d":"2021-07-15","v":25},{"s":"Hispanic_M","d":"2021-08-01","v":31.5},{"s":"Hispanic_M","d":"2021-08-15","v":35},{"s":"Hispanic_M","d":"2021-09-01","v":38.5},{"s":"Hispanic_M","d":"2021-10-01","v":42.7},{"s":"Hispanic_M","d":"2021-11-01","v":45},{"s":"Hispanic_M","d":"2021-12-01","v":46.5},{"s":"Hispanic_M","d":"2022-01-01","v":48.7},{"s":"Hispanic_M","d":"2022-02-01","v":51.2},{"s":"Hispanic_M","d":"2022-03-01","v":53},{"s":"Hispanic_M","d":"2022-04-01","v":54},{"s":"Hispanic_M","d":"2022-05-01","v":54.8},{"s":"Hispanic_M","d":"2022-05-24","v":55.3},
{"s":"Overall_F","d":"2020-12-01","v":0},{"s":"Overall_F","d":"2021-05-01","v":0},{"s":"Overall_F","d":"2021-05-06","v":16.5},{"s":"Overall_F","d":"2021-05-15","v":23.5},{"s":"Overall_F","d":"2021-06-01","v":28},{"s":"Overall_F","d":"2021-07-01","v":33.5},{"s":"Overall_F","d":"2021-07-15","v":38},{"s":"Overall_F","d":"2021-08-01","v":44.5},{"s":"Overall_F","d":"2021-08-15","v":49},{"s":"Overall_F","d":"2021-09-01","v":53},{"s":"Overall_F","d":"2021-10-01","v":56.5},{"s":"Overall_F","d":"2021-11-01","v":58.5},{"s":"Overall_F","d":"2021-12-01","v":60.3},{"s":"Overall_F","d":"2022-01-01","v":62},{"s":"Overall_F","d":"2022-02-01","v":63.3},{"s":"Overall_F","d":"2022-03-01","v":64.2},{"s":"Overall_F","d":"2022-04-01","v":65},{"s":"Overall_F","d":"2022-05-01","v":65.4},{"s":"Overall_F","d":"2022-05-24","v":65.5},
{"s":"Overall_M","d":"2020-12-01","v":0},{"s":"Overall_M","d":"2021-05-01","v":0},{"s":"Overall_M","d":"2021-05-06","v":14.5},{"s":"Overall_M","d":"2021-05-15","v":21.5},{"s":"Overall_M","d":"2021-06-01","v":26},{"s":"Overall_M","d":"2021-07-01","v":31.5},{"s":"Overall_M","d":"2021-07-15","v":36},{"s":"Overall_M","d":"2021-08-01","v":42.5},{"s":"Overall_M","d":"2021-08-15","v":47},{"s":"Overall_M","d":"2021-09-01","v":50.5},{"s":"Overall_M","d":"2021-10-01","v":54},{"s":"Overall_M","d":"2021-11-01","v":56},{"s":"Overall_M","d":"2021-12-01","v":57.7},{"s":"Overall_M","d":"2022-01-01","v":59.3},{"s":"Overall_M","d":"2022-02-01","v":60.5},{"s":"Overall_M","d":"2022-03-01","v":61.2},{"s":"Overall_M","d":"2022-04-01","v":61.7},{"s":"Overall_M","d":"2022-05-01","v":61.9},{"s":"Overall_M","d":"2022-05-24","v":62},
{"s":"NonHispanic_M","d":"2020-12-01","v":0},{"s":"NonHispanic_M","d":"2021-05-01","v":0},{"s":"NonHispanic_M","d":"2021-05-06","v":15},{"s":"NonHispanic_M","d":"2021-05-15","v":22},{"s":"NonHispanic_M","d":"2021-06-01","v":26.5},{"s":"NonHispanic_M","d":"2021-07-01","v":32},{"s":"NonHispanic_M","d":"2021-07-15","v":36.5},{"s":"NonHispanic_M","d":"2021-08-01","v":43},{"s":"NonHispanic_M","d":"2021-08-15","v":47.5},{"s":"NonHispanic_M","d":"2021-09-01","v":51},{"s":"NonHispanic_M","d":"2021-10-01","v":54.5},{"s":"NonHispanic_M","d":"2021-11-01","v":56.5},{"s":"NonHispanic_M","d":"2021-12-01","v":58.3},{"s":"NonHispanic_M","d":"2022-01-01","v":60},{"s":"NonHispanic_M","d":"2022-02-01","v":61.2},{"s":"NonHispanic_M","d":"2022-03-01","v":62},{"s":"NonHispanic_M","d":"2022-04-01","v":62.5},{"s":"NonHispanic_M","d":"2022-05-01","v":62.7},{"s":"NonHispanic_M","d":"2022-05-24","v":62.8},
{"s":"NonHispanic_F","d":"2020-12-01","v":0},{"s":"NonHispanic_F","d":"2021-05-01","v":0},{"s":"NonHispanic_F","d":"2021-05-06","v":17},{"s":"NonHispanic_F","d":"2021-05-15","v":24},{"s":"NonHispanic_F","d":"2021-06-01","v":28.5},{"s":"NonHispanic_F","d":"2021-07-01","v":34},{"s":"NonHispanic_F","d":"2021-07-15","v":38.5},{"s":"NonHispanic_F","d":"2021-08-01","v":45},{"s":"NonHispanic_F","d":"2021-08-15","v":49.5},{"s":"NonHispanic_F","d":"2021-09-01","v":53.5},{"s":"NonHispanic_F","d":"2021-10-01","v":57},{"s":"NonHispanic_F","d":"2021-11-01","v":59},{"s":"NonHispanic_F","d":"2021-12-01","v":61},{"s":"NonHispanic_F","d":"2022-01-01","v":62.8},{"s":"NonHispanic_F","d":"2022-02-01","v":64},{"s":"NonHispanic_F","d":"2022-03-01","v":65},{"s":"NonHispanic_F","d":"2022-04-01","v":65.7},{"s":"NonHispanic_F","d":"2022-05-01","v":66.2},{"s":"NonHispanic_F","d":"2022-05-24","v":66.5}
],
"f":[
{"s":"Hispanic_F","d":"2020-12-01","v":0},{"s":"Hispanic_F","d":"2021-05-19","v":0},{"s":"Hispanic_F","d":"2021-05-23","v":5},{"s":"Hispanic_F","d":"2021-06-01","v":9},{"s":"Hispanic_F","d":"2021-06-15","v":12.5},{"s":"Hispanic_F","d":"2021-07-01","v":16.5},{"s":"Hispanic_F","d":"2021-07-15","v":19.5},{"s":"Hispanic_F","d":"2021-08-01","v":24.5},{"s":"Hispanic_F","d":"2021-08-15","v":28.5},{"s":"Hispanic_F","d":"2021-09-01","v":32.5},{"s":"Hispanic_F","d":"2021-09-15","v":34.5},{"s":"Hispanic_F","d":"2021-10-01","v":35.5},{"s":"Hispanic_F","d":"2021-11-01","v":37.8},{"s":"Hispanic_F","d":"2021-12-01","v":39.3},{"s":"Hispanic_F","d":"2022-01-01","v":40.5},{"s":"Hispanic_F","d":"2022-02-01","v":42.8},{"s":"Hispanic_F","d":"2022-03-01","v":44.3},{"s":"Hispanic_F","d":"2022-04-01","v":45},{"s":"Hispanic_F","d":"2022-05-01","v":45.5},{"s":"Hispanic_F","d":"2022-05-24","v":45.8},
{"s":"Hispanic_M","d":"2020-12-01","v":0},{"s":"Hispanic_M","d":"2021-05-19","v":0},{"s":"Hispanic_M","d":"2021-05-23","v":4.5},{"s":"Hispanic_M","d":"2021-06-01","v":8.5},{"s":"Hispanic_M","d":"2021-06-15","v":11.5},{"s":"Hispanic_M","d":"2021-07-01","v":15.5},{"s":"Hispanic_M","d":"2021-07-15","v":18.5},{"s":"Hispanic_M","d":"2021-08-01","v":23.5},{"s":"Hispanic_M","d":"2021-08-15","v":27.5},{"s":"Hispanic_M","d":"2021-09-01","v":31.5},{"s":"Hispanic_M","d":"2021-09-15","v":34},{"s":"Hispanic_M","d":"2021-10-01","v":35},{"s":"Hispanic_M","d":"2021-11-01","v":37.3},{"s":"Hispanic_M","d":"2021-12-01","v":39},{"s":"Hispanic_M","d":"2022-01-01","v":40.2},{"s":"Hispanic_M","d":"2022-02-01","v":42.5},{"s":"Hispanic_M","d":"2022-03-01","v":44},{"s":"Hispanic_M","d":"2022-04-01","v":44.8},{"s":"Hispanic_M","d":"2022-05-01","v":45.3},{"s":"Hispanic_M","d":"2022-05-24","v":45.6},
{"s":"Overall_F","d":"2020-12-01","v":0},{"s":"Overall_F","d":"2021-05-19","v":0},{"s":"Overall_F","d":"2021-05-23","v":11.5},{"s":"Overall_F","d":"2021-06-01","v":19.5},{"s":"Overall_F","d":"2021-06-15","v":24},{"s":"Overall_F","d":"2021-07-01","v":27.5},{"s":"Overall_F","d":"2021-07-15","v":30.5},{"s":"Overall_F","d":"2021-08-01","v":36.3},{"s":"Overall_F","d":"2021-08-15","v":40.7},{"s":"Overall_F","d":"2021-09-01","v":44.7},{"s":"Overall_F","d":"2021-09-15","v":47},{"s":"Overall_F","d":"2021-10-01","v":48.5},{"s":"Overall_F","d":"2021-11-01","v":50.7},{"s":"Overall_F","d":"2021-12-01","v":52.5},{"s":"Overall_F","d":"2022-01-01","v":54},{"s":"Overall_F","d":"2022-02-01","v":56},{"s":"Overall_F","d":"2022-03-01","v":57},{"s":"Overall_F","d":"2022-04-01","v":57.5},{"s":"Overall_F","d":"2022-05-01","v":57.8},{"s":"Overall_F","d":"2022-05-24","v":58},
{"s":"Overall_M","d":"2020-12-01","v":0},{"s":"Overall_M","d":"2021-05-19","v":0},{"s":"Overall_M","d":"2021-05-23","v":10},{"s":"Overall_M","d":"2021-06-01","v":17},{"s":"Overall_M","d":"2021-06-15","v":21.5},{"s":"Overall_M","d":"2021-07-01","v":25},{"s":"Overall_M","d":"2021-07-15","v":28},{"s":"Overall_M","d":"2021-08-01","v":34},{"s":"Overall_M","d":"2021-08-15","v":38.3},{"s":"Overall_M","d":"2021-09-01","v":42.3},{"s":"Overall_M","d":"2021-09-15","v":44.7},{"s":"Overall_M","d":"2021-10-01","v":46.2},{"s":"Overall_M","d":"2021-11-01","v":48.4},{"s":"Overall_M","d":"2021-12-01","v":50},{"s":"Overall_M","d":"2022-01-01","v":51.7},{"s":"Overall_M","d":"2022-02-01","v":53.3},{"s":"Overall_M","d":"2022-03-01","v":54},{"s":"Overall_M","d":"2022-04-01","v":54.4},{"s":"Overall_M","d":"2022-05-01","v":54.6},{"s":"Overall_M","d":"2022-05-24","v":54.7},
{"s":"NonHispanic_M","d":"2020-12-01","v":0},{"s":"NonHispanic_M","d":"2021-05-19","v":0},{"s":"NonHispanic_M","d":"2021-05-23","v":10.5},{"s":"NonHispanic_M","d":"2021-06-01","v":17.5},{"s":"NonHispanic_M","d":"2021-06-15","v":22},{"s":"NonHispanic_M","d":"2021-07-01","v":25.5},{"s":"NonHispanic_M","d":"2021-07-15","v":28.5},{"s":"NonHispanic_M","d":"2021-08-01","v":34.5},{"s":"NonHispanic_M","d":"2021-08-15","v":39},{"s":"NonHispanic_M","d":"2021-09-01","v":43},{"s":"NonHispanic_M","d":"2021-09-15","v":45.5},{"s":"NonHispanic_M","d":"2021-10-01","v":47},{"s":"NonHispanic_M","d":"2021-11-01","v":49.3},{"s":"NonHispanic_M","d":"2021-12-01","v":51},{"s":"NonHispanic_M","d":"2022-01-01","v":52.7},{"s":"NonHispanic_M","d":"2022-02-01","v":54.3},{"s":"NonHispanic_M","d":"2022-03-01","v":55},{"s":"NonHispanic_M","d":"2022-04-01","v":55.3},{"s":"NonHispanic_M","d":"2022-05-01","v":55.5},{"s":"NonHispanic_M","d":"2022-05-24","v":55.6},
{"s":"NonHispanic_F","d":"2020-12-01","v":0},{"s":"NonHispanic_F","d":"2021-05-19","v":0},{"s":"NonHispanic_F","d":"2021-05-23","v":12},{"s":"NonHispanic_F","d":"2021-06-01","v":20},{"s":"NonHispanic_F","d":"2021-06-15","v":24.5},{"s":"NonHispanic_F","d":"2021-07-01","v":28},{"s":"NonHispanic_F","d":"2021-07-15","v":31},{"s":"NonHispanic_F","d":"2021-08-01","v":37},{"s":"NonHispanic_F","d":"2021-08-15","v":41.5},{"s":"NonHispanic_F","d":"2021-09-01","v":45.5},{"s":"NonHispanic_F","d":"2021-09-15","v":48},{"s":"NonHispanic_F","d":"2021-10-01","v":49.5},{"s":"NonHispanic_F","d":"2021-11-01","v":51.7},{"s":"NonHispanic_F","d":"2021-12-01","v":53.5},{"s":"NonHispanic_F","d":"2022-01-01","v":55},{"s":"NonHispanic_F","d":"2022-02-01","v":57},{"s":"NonHispanic_F","d":"2022-03-01","v":58},{"s":"NonHispanic_F","d":"2022-04-01","v":58.6},{"s":"NonHispanic_F","d":"2022-05-01","v":59},{"s":"NonHispanic_F","d":"2022-05-24","v":59.2}
],
"g":[
{"s":"Overall_F","d":"2020-12-01","v":0},{"s":"Overall_F","d":"2021-11-01","v":0},{"s":"Overall_F","d":"2021-11-05","v":13},{"s":"Overall_F","d":"2021-11-12","v":18.5},{"s":"Overall_F","d":"2021-12-01","v":23},{"s":"Overall_F","d":"2021-12-15","v":26.5},{"s":"Overall_F","d":"2022-01-01","v":30.8},{"s":"Overall_F","d":"2022-01-15","v":32.3},{"s":"Overall_F","d":"2022-02-01","v":33.3},{"s":"Overall_F","d":"2022-03-01","v":35},{"s":"Overall_F","d":"2022-04-01","v":36.2},{"s":"Overall_F","d":"2022-05-01","v":36.8},{"s":"Overall_F","d":"2022-05-24","v":37.1},
{"s":"Overall_M","d":"2020-12-01","v":0},{"s":"Overall_M","d":"2021-11-01","v":0},{"s":"Overall_M","d":"2021-11-05","v":13},{"s":"Overall_M","d":"2021-11-12","v":18.5},{"s":"Overall_M","d":"2021-12-01","v":23},{"s":"Overall_M","d":"2021-12-15","v":26.5},{"s":"Overall_M","d":"2022-01-01","v":30.5},{"s":"Overall_M","d":"2022-01-15","v":32},{"s":"Overall_M","d":"2022-02-01","v":33},{"s":"Overall_M","d":"2022-03-01","v":34.7},{"s":"Overall_M","d":"2022-04-01","v":36},{"s":"Overall_M","d":"2022-05-01","v":36.6},{"s":"Overall_M","d":"2022-05-24","v":37},
{"s":"NonHispanic_M","d":"2020-12-01","v":0},{"s":"NonHispanic_M","d":"2021-11-01","v":0},{"s":"NonHispanic_M","d":"2021-11-05","v":14},{"s":"NonHispanic_M","d":"2021-11-12","v":19.5},{"s":"NonHispanic_M","d":"2021-12-01","v":24},{"s":"NonHispanic_M","d":"2021-12-15","v":27.5},{"s":"NonHispanic_M","d":"2022-01-01","v":31.5},{"s":"NonHispanic_M","d":"2022-01-15","v":33},{"s":"NonHispanic_M","d":"2022-02-01","v":34},{"s":"NonHispanic_M","d":"2022-03-01","v":35.7},{"s":"NonHispanic_M","d":"2022-04-01","v":36.8},{"s":"NonHispanic_M","d":"2022-05-01","v":37.4},{"s":"NonHispanic_M","d":"2022-05-24","v":37.8},
{"s":"NonHispanic_F","d":"2020-12-01","v":0},{"s":"NonHispanic_F","d":"2021-11-01","v":0},{"s":"NonHispanic_F","d":"2021-11-05","v":14},{"s":"NonHispanic_F","d":"2021-11-12","v":19.5},{"s":"NonHispanic_F","d":"2021-12-01","v":24},{"s":"NonHispanic_F","d":"2021-12-15","v":27.5},{"s":"NonHispanic_F","d":"2022-01-01","v":31.5},{"s":"NonHispanic_F","d":"2022-01-15","v":33},{"s":"NonHispanic_F","d":"2022-02-01","v":34},{"s":"NonHispanic_F","d":"2022-03-01","v":35.8},{"s":"NonHispanic_F","d":"2022-04-01","v":37},{"s":"NonHispanic_F","d":"2022-05-01","v":37.6},{"s":"NonHispanic_F","d":"2022-05-24","v":38},
{"s":"Hispanic_M","d":"2021-09-01","v":0},{"s":"Hispanic_M","d":"2021-11-01","v":0},{"s":"Hispanic_M","d":"2021-11-05","v":3},{"s":"Hispanic_M","d":"2021-11-12","v":6.5},{"s":"Hispanic_M","d":"2021-12-01","v":10.5},{"s":"Hispanic_M","d":"2021-12-15","v":14},{"s":"Hispanic_M","d":"2022-01-01","v":19.3},{"s":"Hispanic_M","d":"2022-01-15","v":21.3},{"s":"Hispanic_M","d":"2022-02-01","v":23},{"s":"Hispanic_M","d":"2022-03-01","v":24.8},{"s":"Hispanic_M","d":"2022-04-01","v":25.8},{"s":"Hispanic_M","d":"2022-05-01","v":26.5},{"s":"Hispanic_M","d":"2022-05-24","v":26.8},
{"s":"Hispanic_F","d":"2021-06-01","v":0},{"s":"Hispanic_F","d":"2021-11-01","v":0},{"s":"Hispanic_F","d":"2021-11-05","v":3},{"s":"Hispanic_F","d":"2021-11-12","v":6.5},{"s":"Hispanic_F","d":"2021-12-01","v":10.5},{"s":"Hispanic_F","d":"2021-12-15","v":14},{"s":"Hispanic_F","d":"2022-01-01","v":19.5},{"s":"Hispanic_F","d":"2022-01-15","v":22},{"s":"Hispanic_F","d":"2022-02-01","v":24},{"s":"Hispanic_F","d":"2022-03-01","v":26.5},{"s":"Hispanic_F","d":"2022-04-01","v":27.5},{"s":"Hispanic_F","d":"2022-05-01","v":28},{"s":"Hispanic_F","d":"2022-05-24","v":28.5}
],
"h":[
{"s":"Hispanic_F","d":"2020-12-01","v":0},{"s":"Hispanic_F","d":"2021-11-17","v":0},{"s":"Hispanic_F","d":"2021-11-21","v":2.5},{"s":"Hispanic_F","d":"2021-11-26","v":4},{"s":"Hispanic_F","d":"2021-12-01","v":5},{"s":"Hispanic_F","d":"2021-12-15","v":7},{"s":"Hispanic_F","d":"2022-01-01","v":9.5},{"s":"Hispanic_F","d":"2022-01-15","v":12},{"s":"Hispanic_F","d":"2022-02-01","v":14.5},{"s":"Hispanic_F","d":"2022-03-01","v":17},{"s":"Hispanic_F","d":"2022-04-01","v":18.3},{"s":"Hispanic_F","d":"2022-05-01","v":19.2},{"s":"Hispanic_F","d":"2022-05-24","v":19.8},
{"s":"Hispanic_M","d":"2020-12-01","v":0},{"s":"Hispanic_M","d":"2021-11-17","v":0},{"s":"Hispanic_M","d":"2021-11-21","v":2.5},{"s":"Hispanic_M","d":"2021-11-26","v":4},{"s":"Hispanic_M","d":"2021-12-01","v":5},{"s":"Hispanic_M","d":"2021-12-15","v":7},{"s":"Hispanic_M","d":"2022-01-01","v":9.3},{"s":"Hispanic_M","d":"2022-01-15","v":11.7},{"s":"Hispanic_M","d":"2022-02-01","v":14},{"s":"Hispanic_M","d":"2022-03-01","v":16.7},{"s":"Hispanic_M","d":"2022-04-01","v":18},{"s":"Hispanic_M","d":"2022-05-01","v":18.8},{"s":"Hispanic_M","d":"2022-05-24","v":19.3},
{"s":"Overall_F","d":"2020-12-01","v":0},{"s":"Overall_F","d":"2021-11-17","v":0},{"s":"Overall_F","d":"2021-11-21","v":11},{"s":"Overall_F","d":"2021-11-26","v":14.5},{"s":"Overall_F","d":"2021-12-01","v":16},{"s":"Overall_F","d":"2021-12-15","v":18.5},{"s":"Overall_F","d":"2022-01-01","v":21.5},{"s":"Overall_F","d":"2022-01-15","v":24},{"s":"Overall_F","d":"2022-02-01","v":26.7},{"s":"Overall_F","d":"2022-03-01","v":28.7},{"s":"Overall_F","d":"2022-04-01","v":29.7},{"s":"Overall_F","d":"2022-05-01","v":30.4},{"s":"Overall_F","d":"2022-05-24","v":30.8},
{"s":"Overall_M","d":"2020-12-01","v":0},{"s":"Overall_M","d":"2021-11-17","v":0},{"s":"Overall_M","d":"2021-11-21","v":11},{"s":"Overall_M","d":"2021-11-26","v":14.5},{"s":"Overall_M","d":"2021-12-01","v":16},{"s":"Overall_M","d":"2021-12-15","v":18.5},{"s":"Overall_M","d":"2022-01-01","v":21.3},{"s":"Overall_M","d":"2022-01-15","v":23.8},{"s":"Overall_M","d":"2022-02-01","v":26.5},{"s":"Overall_M","d":"2022-03-01","v":28.5},{"s":"Overall_M","d":"2022-04-01","v":29.5},{"s":"Overall_M","d":"2022-05-01","v":30.2},{"s":"Overall_M","d":"2022-05-24","v":30.6},
{"s":"NonHispanic_M","d":"2020-12-01","v":0},{"s":"NonHispanic_M","d":"2021-11-17","v":0},{"s":"NonHispanic_M","d":"2021-11-21","v":12},{"s":"NonHispanic_M","d":"2021-11-26","v":15.5},{"s":"NonHispanic_M","d":"2021-12-01","v":17},{"s":"NonHispanic_M","d":"2021-12-15","v":19.3},{"s":"NonHispanic_M","d":"2022-01-01","v":22.3},{"s":"NonHispanic_M","d":"2022-01-15","v":24.8},{"s":"NonHispanic_M","d":"2022-02-01","v":27.6},{"s":"NonHispanic_M","d":"2022-03-01","v":29.8},{"s":"NonHispanic_M","d":"2022-04-01","v":30.8},{"s":"NonHispanic_M","d":"2022-05-01","v":31.5},{"s":"NonHispanic_M","d":"2022-05-24","v":32},
{"s":"NonHispanic_F","d":"2020-12-01","v":0},{"s":"NonHispanic_F","d":"2021-11-17","v":0},{"s":"NonHispanic_F","d":"2021-11-21","v":12},{"s":"NonHispanic_F","d":"2021-11-26","v":15.5},{"s":"NonHispanic_F","d":"2021-12-01","v":17},{"s":"NonHispanic_F","d":"2021-12-15","v":19.5},{"s":"NonHispanic_F","d":"2022-01-01","v":22.5},{"s":"NonHispanic_F","d":"2022-01-15","v":25},{"s":"NonHispanic_F","d":"2022-02-01","v":28},{"s":"NonHispanic_F","d":"2022-03-01","v":30},{"s":"NonHispanic_F","d":"2022-04-01","v":31},{"s":"NonHispanic_F","d":"2022-05-01","v":31.8},{"s":"NonHispanic_F","d":"2022-05-24","v":32.2}
],
"race":[{"s":"Overall_F"},{"s":"Overall_M"},{"s":"Black_F"},{"s":"Black_M"},{"s":"White_F"},{"s":"White_M"},{"s":"Asian_F"},{"s":"Asian_M"},{"s":"Multiracial_F"},{"s":"Multiracial_M"},{"s":"Others_F"},{"s":"Others_M"}],
"eth":[{"s":"Overall_F"},{"s":"Overall_M"},{"s":"Hispanic_F"},{"s":"Hispanic_M"},{"s":"NonHispanic_F"},{"s":"NonHispanic_M"}],
"h1":[{"t":"Race and sex combination"}],
"h2":[{"t":"Dose One"}],"h3":[{"t":"Dose Two"}],
"ha":[{"t":"(a) 12-15"}],"hb":[{"t":"(b) 12-15"}],
"hc":[{"t":"(c) 5-11"}],"hd":[{"t":"(d) 5-11"}],
"h4":[{"t":"Ethnicity and sex combination"}],
"he":[{"t":"(e) 12-15"}],"hf":[{"t":"(f) 12-15"}],
"hg":[{"t":"(g) 5-11"}],"hh":[{"t":"(h) 5-11"}]
},
"vconcat":[
{"width":683,"height":21.5,"view":{"stroke":"#595959","strokeWidth":1.5},"data":{"name":"h1"},"mark":{"type":"text","align":"left","baseline":"middle","font":"Lato","fontSize":16,"fontWeight":"bold","color":"#000"},"encoding":{"text":{"field":"t"},"x":{"datum":0,"type":"quantitative","scale":{"domain":[0,1],"range":[8,683]},"axis":null},"y":{"datum":0,"type":"quantitative","scale":{"domain":[0,1],"range":[11.5,0]},"axis":null}}},
{"hconcat":[
 {"width":351,"height":19.5,"view":{"stroke":"#595959","strokeWidth":1.5},"data":{"name":"h2"},"mark":{"type":"text","align":"left","baseline":"middle","font":"Lato","fontSize":15,"color":"#000"},"encoding":{"text":{"field":"t"},"x":{"datum":0,"type":"quantitative","scale":{"domain":[0,1],"range":[9,351]},"axis":null},"y":{"datum":0,"type":"quantitative","scale":{"domain":[0,1],"range":[10,0]},"axis":null}}},
 {"width":332,"height":19.5,"view":{"stroke":"#595959","strokeWidth":1.5},"data":{"name":"h3"},"mark":{"type":"text","align":"left","baseline":"middle","font":"Lato","fontSize":15,"color":"#000"},"encoding":{"text":{"field":"t"},"x":{"datum":0,"type":"quantitative","scale":{"domain":[0,1],"range":[9,332]},"axis":null},"y":{"datum":0,"type":"quantitative","scale":{"domain":[0,1],"range":[10,0]},"axis":null}}}
],"spacing":0,"bounds":"flush"},
{"hconcat":[
 {"width":351,"height":20.5,"view":{"stroke":"#595959","strokeWidth":1.5},"data":{"name":"ha"},"mark":{"type":"text","align":"left","baseline":"middle","font":"Lato","fontSize":15,"color":"#000"},"encoding":{"text":{"field":"t"},"x":{"datum":0,"type":"quantitative","scale":{"domain":[0,1],"range":[9,351]},"axis":null},"y":{"datum":0,"type":"quantitative","scale":{"domain":[0,1],"range":[10.5,0]},"axis":null}}},
 {"width":332,"height":20.5,"view":{"stroke":"#595959","strokeWidth":1.5},"data":{"name":"hb"},"mark":{"type":"text","align":"left","baseline":"middle","font":"Lato","fontSize":15,"color":"#000"},"encoding":{"text":{"field":"t"},"x":{"datum":0,"type":"quantitative","scale":{"domain":[0,1],"range":[9,332]},"axis":null},"y":{"datum":0,"type":"quantitative","scale":{"domain":[0,1],"range":[10.5,0]},"axis":null}}}
],"spacing":0,"bounds":"flush"},
{"hconcat":[
 {"width":351,"height":215,"data":{"name":"a"},"mark":{"type":"line","strokeWidth":1.5},
  "encoding":{
   "x":{"field":"d","type":"temporal","scale":{"type":"utc","domain":[{"year":2020,"month":12,"date":1,"utc":true},{"year":2022,"month":5,"date":24,"utc":true}],"range":[38,314],"nice":false},"axis":{"title":"Date","offset":-51}},
   "y":{"field":"v","type":"quantitative","scale":{"domain":[0,80],"range":[164,6],"nice":false},"axis":{"title":"Rate of Vaccination (%)","values":[0,10,20,30,40,50,60,70,80],"offset":-38}},
   "color":{"field":"s","type":"nominal","scale":{"domain":["Overall_F","Overall_M","Black_F","Black_M","White_F","White_M","Asian_F","Asian_M","Multiracial_F","Multiracial_M","Others_F","Others_M"],"range":["#000000","#404040","#2270C8","#5B9BD5","#1DB04E","#6AD894","#7030A0","#B28AD6","#D92B2B","#FF2A2A","#FF66FF","#FF99FF"]},"legend":null},
   "strokeDash":{"field":"s","type":"nominal","scale":{"domain":["Overall_F","Overall_M","Black_F","Black_M","White_F","White_M","Asian_F","Asian_M","Multiracial_F","Multiracial_M","Others_F","Others_M"],"range":[[1,0],[5,4],[1,0],[5,4],[1,0],[5,4],[1,0],[5,4],[1,0],[5,4],[1,0],[5,4]]},"legend":null}
  }},
 {"width":332,"height":215,"data":{"name":"b"},"mark":{"type":"line","strokeWidth":1.5},
  "encoding":{
   "x":{"field":"d","type":"temporal","scale":{"type":"utc","domain":[{"year":2020,"month":12,"date":1,"utc":true},{"year":2022,"month":5,"date":24,"utc":true}],"range":[43,311],"nice":false},"axis":{"title":"Date","offset":-50}},
   "y":{"field":"v","type":"quantitative","scale":{"domain":[0,80],"range":[165,6],"nice":false},"axis":{"title":"Rate of Vaccination (%)","values":[0,10,20,30,40,50,60,70,80],"offset":-43}},
   "color":{"field":"s","type":"nominal","scale":{"domain":["Overall_F","Overall_M","Black_F","Black_M","White_F","White_M","Asian_F","Asian_M","Multiracial_F","Multiracial_M","Others_F","Others_M"],"range":["#000000","#404040","#2270C8","#5B9BD5","#1DB04E","#6AD894","#7030A0","#B28AD6","#D92B2B","#FF2A2A","#FF66FF","#FF99FF"]},"legend":null},
   "strokeDash":{"field":"s","type":"nominal","scale":{"domain":["Overall_F","Overall_M","Black_F","Black_M","White_F","White_M","Asian_F","Asian_M","Multiracial_F","Multiracial_M","Others_F","Others_M"],"range":[[1,0],[5,4],[1,0],[5,4],[1,0],[5,4],[1,0],[5,4],[1,0],[5,4],[1,0],[5,4]]},"legend":null}
  }}
],"spacing":0,"bounds":"flush"},
{"hconcat":[
 {"width":351,"height":21.5,"view":{"stroke":"#595959","strokeWidth":1.5},"data":{"name":"hc"},"mark":{"type":"text","align":"left","baseline":"middle","font":"Lato","fontSize":15,"color":"#000"},"encoding":{"text":{"field":"t"},"x":{"datum":0,"type":"quantitative","scale":{"domain":[0,1],"range":[9,351]},"axis":null},"y":{"datum":0,"type":"quantitative","scale":{"domain":[0,1],"range":[11,0]},"axis":null}}},
 {"width":332,"height":21.5,"view":{"stroke":"#595959","strokeWidth":1.5},"data":{"name":"hd"},"mark":{"type":"text","align":"left","baseline":"middle","font":"Lato","fontSize":15,"color":"#000"},"encoding":{"text":{"field":"t"},"x":{"datum":0,"type":"quantitative","scale":{"domain":[0,1],"range":[9,332]},"axis":null},"y":{"datum":0,"type":"quantitative","scale":{"domain":[0,1],"range":[11,0]},"axis":null}}}
],"spacing":0,"bounds":"flush"},
{"hconcat":[
 {"width":351,"height":216,"data":{"name":"c"},"mark":{"type":"line","strokeWidth":1.5},
  "encoding":{
   "x":{"field":"d","type":"temporal","scale":{"type":"utc","domain":[{"year":2020,"month":12,"date":1,"utc":true},{"year":2022,"month":5,"date":24,"utc":true}],"range":[39,312],"nice":false},"axis":{"title":"Date","offset":-59}},
   "y":{"field":"v","type":"quantitative","scale":{"domain":[0,60],"range":[157,5],"nice":false},"axis":{"title":"Rate of Vaccination (%)","values":[0,10,20,30,40,50,60],"offset":-39}},
   "color":{"field":"s","type":"nominal","scale":{"domain":["Overall_F","Overall_M","Black_F","Black_M","White_F","White_M","Asian_F","Asian_M","Multiracial_F","Multiracial_M","Others_F","Others_M"],"range":["#000000","#404040","#2270C8","#5B9BD5","#1DB04E","#6AD894","#7030A0","#B28AD6","#D92B2B","#FF2A2A","#FF66FF","#FF99FF"]},"legend":null},
   "strokeDash":{"field":"s","type":"nominal","scale":{"domain":["Overall_F","Overall_M","Black_F","Black_M","White_F","White_M","Asian_F","Asian_M","Multiracial_F","Multiracial_M","Others_F","Others_M"],"range":[[1,0],[5,4],[1,0],[5,4],[1,0],[5,4],[1,0],[5,4],[1,0],[5,4],[1,0],[5,4]]},"legend":null}
  }},
 {"width":332,"height":216,"data":{"name":"d"},"mark":{"type":"line","strokeWidth":1.5},
  "encoding":{
   "x":{"field":"d","type":"temporal","scale":{"type":"utc","domain":[{"year":2020,"month":12,"date":1,"utc":true},{"year":2022,"month":5,"date":24,"utc":true}],"range":[38,302],"nice":false},"axis":{"title":"Date","offset":-55}},
   "y":{"field":"v","type":"quantitative","scale":{"domain":[0,60],"range":[161,5],"nice":false},"axis":{"title":"Rate of Vaccination (%)","values":[0,10,20,30,40,50,60],"offset":-38}},
   "color":{"field":"s","type":"nominal","scale":{"domain":["Overall_F","Overall_M","Black_F","Black_M","White_F","White_M","Asian_F","Asian_M","Multiracial_F","Multiracial_M","Others_F","Others_M"],"range":["#000000","#404040","#2270C8","#5B9BD5","#1DB04E","#6AD894","#7030A0","#B28AD6","#D92B2B","#FF2A2A","#FF66FF","#FF99FF"]},"legend":null},
   "strokeDash":{"field":"s","type":"nominal","scale":{"domain":["Overall_F","Overall_M","Black_F","Black_M","White_F","White_M","Asian_F","Asian_M","Multiracial_F","Multiracial_M","Others_F","Others_M"],"range":[[1,0],[5,4],[1,0],[5,4],[1,0],[5,4],[1,0],[5,4],[1,0],[5,4],[1,0],[5,4]]},"legend":null}
  }}
],"spacing":0,"bounds":"flush"},
{"width":683,"height":77.5,"view":{"stroke":"#595959","strokeWidth":1.5},"data":{"name":"race"},"mark":{"type":"line","strokeWidth":1.5},
 "encoding":{
  "x":{"datum":0,"type":"quantitative","scale":{"domain":[0,1],"range":[340,683]},"axis":null},
  "y":{"datum":0,"type":"quantitative","scale":{"domain":[0,1],"range":[40,0]},"axis":null},
  "color":{"field":"s","type":"nominal","scale":{"domain":["Overall_F","Overall_M","Black_F","Black_M","White_F","White_M","Asian_F","Asian_M","Multiracial_F","Multiracial_M","Others_F","Others_M"],"range":["#000000","#404040","#2270C8","#5B9BD5","#1DB04E","#6AD894","#7030A0","#B28AD6","#D92B2B","#FF2A2A","#FF66FF","#FF99FF"]},
   "legend":{"title":null,"orient":"none","direction":"horizontal","legendX":124,"legendY":20,"columns":4,"gridAlign":"all","columnPadding":7.5,"rowPadding":3,"clipHeight":14,"symbolType":"stroke","symbolSize":1225,"symbolStrokeWidth":1.5,"labelFont":"Liberation Serif","labelFontSize":11,"labelColor":"#000","labelOffset":4,"labelLimit":300,"padding":0}},
  "strokeDash":{"field":"s","type":"nominal","scale":{"domain":["Overall_F","Overall_M","Black_F","Black_M","White_F","White_M","Asian_F","Asian_M","Multiracial_F","Multiracial_M","Others_F","Others_M"],"range":[[1,0],[5,4],[1,0],[5,4],[1,0],[5,4],[1,0],[5,4],[1,0],[5,4],[1,0],[5,4]]},
   "legend":{"title":null,"orient":"none","direction":"horizontal","legendX":124,"legendY":20,"columns":4,"gridAlign":"all","columnPadding":7.5,"rowPadding":3,"clipHeight":14,"symbolType":"stroke","symbolSize":1225,"symbolStrokeWidth":1.5,"labelFont":"Liberation Serif","labelFontSize":11,"labelColor":"#000","labelOffset":4,"labelLimit":300,"padding":0}}
 }},
{"width":683,"height":23.5,"view":{"stroke":"#595959","strokeWidth":1.5},"data":{"name":"h4"},"mark":{"type":"text","align":"left","baseline":"middle","font":"Lato","fontSize":16,"fontWeight":"bold","color":"#000"},"encoding":{"text":{"field":"t"},"x":{"datum":0,"type":"quantitative","scale":{"domain":[0,1],"range":[8,683]},"axis":null},"y":{"datum":0,"type":"quantitative","scale":{"domain":[0,1],"range":[12,0]},"axis":null}}},
{"hconcat":[
 {"width":357,"height":23.5,"view":{"stroke":"#595959","strokeWidth":1.5},"data":{"name":"he"},"mark":{"type":"text","align":"left","baseline":"middle","font":"Lato","fontSize":15,"color":"#000"},"encoding":{"text":{"field":"t"},"x":{"datum":0,"type":"quantitative","scale":{"domain":[0,1],"range":[9,357]},"axis":null},"y":{"datum":0,"type":"quantitative","scale":{"domain":[0,1],"range":[12,0]},"axis":null}}},
 {"width":326,"height":23.5,"view":{"stroke":"#595959","strokeWidth":1.5},"data":{"name":"hf"},"mark":{"type":"text","align":"left","baseline":"middle","font":"Lato","fontSize":15,"color":"#000"},"encoding":{"text":{"field":"t"},"x":{"datum":0,"type":"quantitative","scale":{"domain":[0,1],"range":[9,326]},"axis":null},"y":{"datum":0,"type":"quantitative","scale":{"domain":[0,1],"range":[12,0]},"axis":null}}}
],"spacing":0,"bounds":"flush"},
{"hconcat":[
 {"width":357,"height":196,"data":{"name":"e"},"mark":{"type":"line","strokeWidth":2},
  "encoding":{
   "x":{"field":"d","type":"temporal","scale":{"type":"utc","domain":[{"year":2020,"month":12,"date":1,"utc":true},{"year":2022,"month":5,"date":24,"utc":true}],"range":[44,315],"nice":false},"axis":{"title":"Date","offset":-49}},
   "y":{"field":"v","type":"quantitative","scale":{"domain":[0,80],"range":[147,7],"nice":false},"axis":{"title":"Rate of Vaccination (%)","values":[0,10,20,30,40,50,60,70,80],"offset":-44}},
   "color":{"field":"s","type":"nominal","scale":{"domain":["Overall_F","Overall_M","Hispanic_F","Hispanic_M","NonHispanic_F","NonHispanic_M"],"range":["#000000","#404040","#00B0F0","#66CCF5","#FFC000","#FFD966"]},"legend":null},
   "strokeDash":{"field":"s","type":"nominal","scale":{"domain":["Overall_F","Overall_M","Hispanic_F","Hispanic_M","NonHispanic_F","NonHispanic_M"],"range":[[1,0],[8,6],[1,0],[8,6],[1,0],[8,6]]},"legend":null}
  }},
 {"width":326,"height":196,"data":{"name":"f"},"mark":{"type":"line","strokeWidth":2},
  "encoding":{
   "x":{"field":"d","type":"temporal","scale":{"type":"utc","domain":[{"year":2020,"month":12,"date":1,"utc":true},{"year":2022,"month":5,"date":24,"utc":true}],"range":[40,309],"nice":false},"axis":{"title":"Date","offset":-48}},
   "y":{"field":"v","type":"quantitative","scale":{"domain":[0,80],"range":[148,8],"nice":false},"axis":{"title":"Rate of Vaccination (%)","values":[0,10,20,30,40,50,60,70,80],"offset":-40}},
   "color":{"field":"s","type":"nominal","scale":{"domain":["Overall_F","Overall_M","Hispanic_F","Hispanic_M","NonHispanic_F","NonHispanic_M"],"range":["#000000","#404040","#00B0F0","#66CCF5","#FFC000","#FFD966"]},"legend":null},
   "strokeDash":{"field":"s","type":"nominal","scale":{"domain":["Overall_F","Overall_M","Hispanic_F","Hispanic_M","NonHispanic_F","NonHispanic_M"],"range":[[1,0],[8,6],[1,0],[8,6],[1,0],[8,6]]},"legend":null}
  }}
],"spacing":0,"bounds":"flush"},
{"hconcat":[
 {"width":357,"height":21.5,"view":{"stroke":"#595959","strokeWidth":1.5},"data":{"name":"hg"},"mark":{"type":"text","align":"left","baseline":"middle","font":"Lato","fontSize":15,"color":"#000"},"encoding":{"text":{"field":"t"},"x":{"datum":0,"type":"quantitative","scale":{"domain":[0,1],"range":[9,357]},"axis":null},"y":{"datum":0,"type":"quantitative","scale":{"domain":[0,1],"range":[11,0]},"axis":null}}},
 {"width":326,"height":21.5,"view":{"stroke":"#595959","strokeWidth":1.5},"data":{"name":"hh"},"mark":{"type":"text","align":"left","baseline":"middle","font":"Lato","fontSize":15,"color":"#000"},"encoding":{"text":{"field":"t"},"x":{"datum":0,"type":"quantitative","scale":{"domain":[0,1],"range":[9,326]},"axis":null},"y":{"datum":0,"type":"quantitative","scale":{"domain":[0,1],"range":[11,0]},"axis":null}}}
],"spacing":0,"bounds":"flush"},
{"hconcat":[
 {"width":357,"height":230,"data":{"name":"g"},"mark":{"type":"line","strokeWidth":2},
  "encoding":{
   "x":{"field":"d","type":"temporal","scale":{"type":"utc","domain":[{"year":2020,"month":12,"date":1,"utc":true},{"year":2022,"month":5,"date":24,"utc":true}],"range":[37,312],"nice":false},"axis":{"title":"Date","offset":-47}},
   "y":{"field":"v","type":"quantitative","scale":{"domain":[0,60],"range":[183,7],"nice":false},"axis":{"title":"Rate of Vaccination (%)","values":[0,10,20,30,40,50,60],"offset":-37}},
   "color":{"field":"s","type":"nominal","scale":{"domain":["Overall_F","Overall_M","Hispanic_F","Hispanic_M","NonHispanic_F","NonHispanic_M"],"range":["#000000","#404040","#00B0F0","#66CCF5","#FFC000","#FFD966"]},"legend":null},
   "strokeDash":{"field":"s","type":"nominal","scale":{"domain":["Overall_F","Overall_M","Hispanic_F","Hispanic_M","NonHispanic_F","NonHispanic_M"],"range":[[1,0],[8,6],[1,0],[8,6],[1,0],[8,6]]},"legend":null}
  }},
 {"width":326,"height":230,"data":{"name":"h"},"mark":{"type":"line","strokeWidth":2},
  "encoding":{
   "x":{"field":"d","type":"temporal","scale":{"type":"utc","domain":[{"year":2020,"month":12,"date":1,"utc":true},{"year":2022,"month":5,"date":24,"utc":true}],"range":[42,305],"nice":false},"axis":{"title":"Date","offset":-51}},
   "y":{"field":"v","type":"quantitative","scale":{"domain":[0,60],"range":[179,7],"nice":false},"axis":{"title":"Rate of Vaccination (%)","values":[0,10,20,30,40,50,60],"offset":-42}},
   "color":{"field":"s","type":"nominal","scale":{"domain":["Overall_F","Overall_M","Hispanic_F","Hispanic_M","NonHispanic_F","NonHispanic_M"],"range":["#000000","#404040","#00B0F0","#66CCF5","#FFC000","#FFD966"]},"legend":null},
   "strokeDash":{"field":"s","type":"nominal","scale":{"domain":["Overall_F","Overall_M","Hispanic_F","Hispanic_M","NonHispanic_F","NonHispanic_M"],"range":[[1,0],[8,6],[1,0],[8,6],[1,0],[8,6]]},"legend":null}
  }}
],"spacing":0,"bounds":"flush"},
{"width":683,"height":65.5,"view":{"stroke":"#595959","strokeWidth":1.5},"data":{"name":"eth"},"mark":{"type":"line","strokeWidth":2.5},
 "encoding":{
  "x":{"datum":0,"type":"quantitative","scale":{"domain":[0,1],"range":[340,683]},"axis":null},
  "y":{"datum":0,"type":"quantitative","scale":{"domain":[0,1],"range":[30,0]},"axis":null},
  "color":{"field":"s","type":"nominal","scale":{"domain":["Overall_F","Overall_M","Hispanic_F","Hispanic_M","NonHispanic_F","NonHispanic_M"],"range":["#000000","#404040","#00B0F0","#66CCF5","#FFC000","#FFD966"]},
   "legend":{"title":null,"orient":"none","direction":"horizontal","legendX":139,"legendY":15,"columns":3,"gridAlign":"all","columnPadding":8.5,"rowPadding":5,"clipHeight":14,"symbolType":"stroke","symbolSize":1296,"symbolStrokeWidth":2.5,"labelFont":"Liberation Serif","labelFontSize":12,"labelColor":"#000","labelOffset":6,"labelLimit":300,"padding":0}},
  "strokeDash":{"field":"s","type":"nominal","scale":{"domain":["Overall_F","Overall_M","Hispanic_F","Hispanic_M","NonHispanic_F","NonHispanic_M"],"range":[[1,0],[8,6],[1,0],[8,6],[1,0],[8,6]]},
   "legend":{"title":null,"orient":"none","direction":"horizontal","legendX":139,"legendY":15,"columns":3,"gridAlign":"all","columnPadding":8.5,"rowPadding":5,"clipHeight":14,"symbolType":"stroke","symbolSize":1296,"symbolStrokeWidth":2.5,"labelFont":"Liberation Serif","labelFontSize":12,"labelColor":"#000","labelOffset":6,"labelLimit":300,"padding":0}}
 }}
]
}
